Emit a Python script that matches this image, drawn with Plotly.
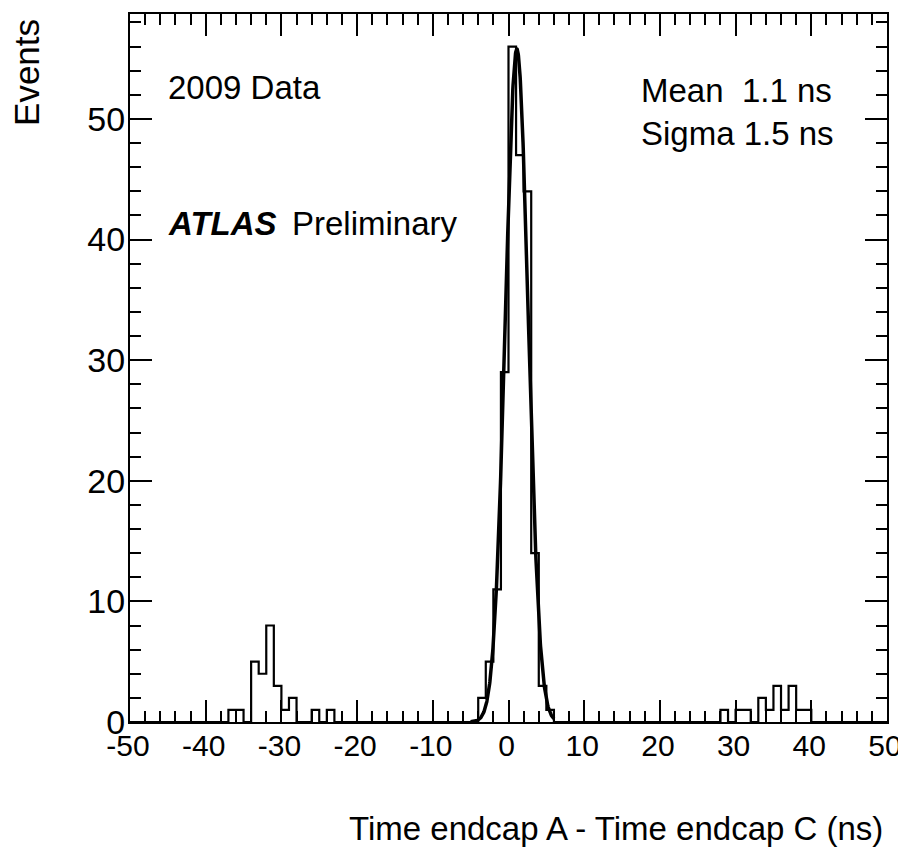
import numpy as np
import plotly.graph_objects as go

# ---- data ----
bin_width = 1.0
x_range = [-50, 50]
# left edges of the non-empty bins and their counts
left_bins = [-37, -36, -34, -33, -32, -31, -30, -29, -26, -24]
left_counts = [1, 1, 5, 4, 8, 3, 1, 2, 1, 1]
peak_bins = [-4, -3, -2, -1, 0, 1, 2, 3, 4, 5]
peak_counts = [2, 5, 11, 29, 56, 47, 44, 14, 3, 1]
right_bins = [28, 30, 31, 33, 34, 35, 36, 37, 38, 39]
right_counts = [1, 1, 1, 2, 1, 3, 1, 3, 1, 1]

# Gaussian fit parameters
fit_mean = 1.1
fit_sigma = 1.5
fit_amplitude = 55.8
fit_range = [-5.0, 6.0]

x_ticks = [-50, -40, -30, -20, -10, 0, 10, 20, 30, 40, 50]
y_ticks = [0, 10, 20, 30, 40, 50]
y_max = 58.7

# ---- build the full histogram ----
edges = np.arange(x_range[0], x_range[1] + bin_width, bin_width)
counts = np.zeros(len(edges) - 1)
for b, c in zip(left_bins + peak_bins + right_bins,
                left_counts + peak_counts + right_counts):
    counts[int(round((b - x_range[0]) / bin_width))] = c
step_x = list(edges)
step_y = list(counts) + [counts[-1]]

fx = np.linspace(fit_range[0], fit_range[1], 400)
fy = fit_amplitude * np.exp(-0.5 * ((fx - fit_mean) / fit_sigma) ** 2)

FONT = "Liberation Sans, Arial, Helvetica, sans-serif"
TEXT_SIZE = 33

fig = go.Figure()
fig.add_trace(go.Scatter(x=step_x, y=step_y, mode="lines",
                         line=dict(color="black", width=2.2, shape="hv"),
                         hoverinfo="skip", showlegend=False))
fig.add_trace(go.Scatter(x=fx, y=fy, mode="lines",
                         line=dict(color="black", width=3.5),
                         hoverinfo="skip", showlegend=False))

axis_common = dict(showgrid=False, zeroline=False, showline=True,
                   linecolor="black", linewidth=2, mirror="ticks",
                   ticks="inside", ticklen=22, tickwidth=1.5, tickcolor="black")

fig.update_xaxes(range=x_range, tickvals=x_ticks,
                 ticktext=[str(v) for v in x_ticks],
                 ticklabelstandoff=-4, ticklabelshift=-2,
                 tickfont=dict(family=FONT, size=30, color="black"),
                 minor=dict(dtick=2, ticks="inside", ticklen=11,
                            tickwidth=1.5, tickcolor="black"),
                 **axis_common)
fig.update_yaxes(range=[0, y_max], tickvals=y_ticks,
                 ticktext=[str(v) for v in y_ticks],
                 ticklabelstandoff=-4,
                 tickfont=dict(family=FONT, size=34, color="black"),
                 minor=dict(dtick=2, ticks="inside", ticklen=11,
                            tickwidth=1.5, tickcolor="black"),
                 **axis_common)

# the page body adds an 8px margin, so the figure is laid out 8px smaller
OFF = 8
W, H = 906 - OFF, 847 - OFF
FRAME_L, FRAME_R, FRAME_T, FRAME_B = 130, 888, 12, 722   # page pixels
L = FRAME_L - OFF
T = FRAME_T - OFF
R = W - (FRAME_R - OFF)
B = H - (FRAME_B - OFF)
pw, ph = FRAME_R - FRAME_L, FRAME_B - FRAME_T

def px(x):
    return (x - FRAME_L) / pw

def py(y):
    return (FRAME_B - y) / ph

ann = []
def add(text, x, y, xa="left", ya="middle", size=TEXT_SIZE, angle=0):
    ann.append(dict(text=text, x=px(x), y=py(y), xref="paper", yref="paper",
                    xanchor=xa, yanchor=ya, showarrow=False, textangle=angle,
                    font=dict(family=FONT, size=size, color="black")))

add("2009 Data", 166, 86)
add("<b><i>ATLAS</i></b>", 166, 222)
add("Preliminary", 290, 222)
add("Mean\u00a0\u00a01.1 ns", 640, 89)
add("Sigma 1.5 ns", 640, 132)
add("Time endcap A - Time endcap C (ns)", 886, 829, xa="right")
add("Events", 27, 71, xa="center", angle=-90, size=35)

fig.update_layout(width=W, height=H,
                  margin=dict(l=L, r=R, t=T, b=B),
                  plot_bgcolor="white", paper_bgcolor="white",
                  annotations=ann, showlegend=False)

fig.write_html("out.html")
